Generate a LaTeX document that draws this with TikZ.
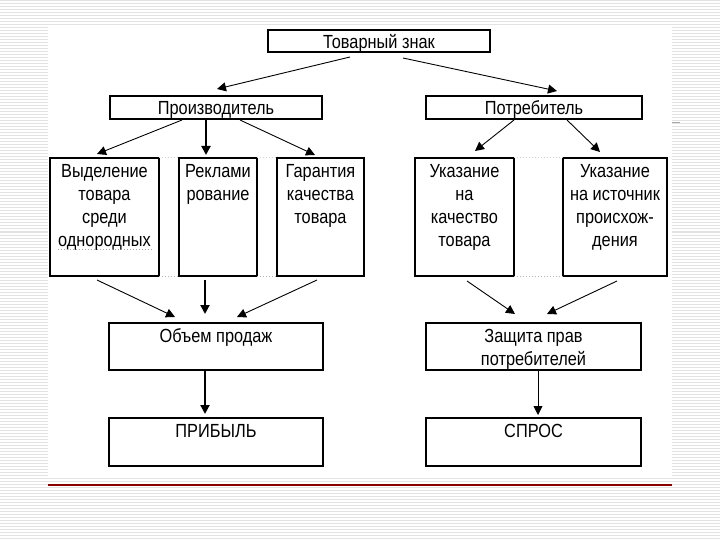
\documentclass[tikz,border=0pt]{standalone}
\usepackage{fontspec}
\setmainfont[FakeStretch=0.86]{Liberation Sans}
\usetikzlibrary{arrows.meta}
\newcommand{\bxt}[3]{\parbox[c][#2pt][t]{#1pt}{\centering\fontsize{19}{23}\selectfont\rule{0pt}{19pt}#3\par}}
\begin{document}
\begin{tikzpicture}[x=1pt,y=-1pt,
  box/.style={draw, line width=1.3pt, inner sep=0pt, outer sep=0pt},
  arr/.style={line width=0.9pt, -{Triangle[length=9pt,width=9pt]}},
  arrthick/.style={line width=2pt, -{Triangle[length=9pt,width=9pt]}},
  stripe/.style={black!11, line width=1pt},
  gapdots/.style={gray!60, dotted, line width=1pt}]
\useasboundingbox (0,0) rectangle (720,540);
\fill[white] (0,0) rectangle (720,540);
\foreach \k in {0,...,179} {\draw[stripe] (0,{\k*3+1}) -- (720,{\k*3+1});}
\fill[white] (48,27) rectangle (672,476);
\draw[red!55!black, line width=1.3pt] (48,485) -- (672,485);
\draw[gray!70, line width=0.8pt] (672,122) -- (680,122);

% boxes
\node[box] (top)  at (379,41)      {\bxt{222}{22}{Товарный знак}};
\node[box] (prod) at (216,107.5)   {\bxt{212}{23}{Производитель}};
\node[box] (potr) at (534,107.5)   {\bxt{216}{23}{Потребитель}};
\node[box] (v1)   at (104.5,217)   {\bxt{109}{118}{Выделение\\товара\\среди\\однородных}};
\node[box] (v2)   at (218,217)     {\bxt{78}{118}{Реклами\\рование}};
\node[box] (v3)   at (320.5,217)   {\bxt{87}{118}{Гарантия\\качества\\товара}};
\node[box] (u1)   at (464.5,217)   {\bxt{99}{118}{Указание\\на\\качество\\товара}};
\node[box] (u2)   at (615,217)     {\bxt{104}{118}{Указание\\на источник\\происхож-\\дения}};
\node[box] (ob)   at (216,346.5)   {\bxt{214}{47}{Объем продаж}};
\node[box] (zp)   at (533.5,346.5) {\bxt{215}{47}{Защита прав\\потребителей}};
\node[box] (pr)   at (216,442)     {\bxt{214}{48}{ПРИБЫЛЬ}};
\node[box] (sp)   at (533.5,442)   {\bxt{215}{48}{СПРОС}};

% spell-check underline
\draw[gray!70, dotted, line width=1pt] (58,249) -- (153,249);

% dotted gaps between boxes
\draw[gapdots] (v1.south east) -- (v2.south west);
\draw[gapdots] (v2.south east) -- (v3.south west);
\draw[gapdots] (u1.south east) -- (u2.south west);
\draw[gray!35, dotted, line width=1pt] (v1.north east) -- (v2.north west);
\draw[gray!35, dotted, line width=1pt] (v2.north east) -- (v3.north west);
\draw[gray!35, dotted, line width=1pt] (u1.north east) -- (u2.north west);

% arrows
\draw[arr] ([xshift=-29pt,yshift=-5pt]top.south) -- ([xshift=1pt,yshift=7pt]prod.north);
\draw[arr] ([xshift=24pt,yshift=-6pt]top.south) -- ([xshift=23pt,yshift=5pt]potr.north);

\draw[arr] ([xshift=-34pt,yshift=-1pt]prod.south) -- ([xshift=-7.5pt,yshift=4pt]v1.north);
\draw[arrthick] ([xshift=-10pt]prod.south) -- ([xshift=-12pt,yshift=3pt]v2.north);
\draw[arr] ([xshift=24pt,yshift=-1pt]prod.south) -- ([xshift=-5.5pt,yshift=3pt]v3.north);

\draw[arr] ([xshift=-20pt,yshift=-1pt]potr.south) -- ([xshift=10.5pt,yshift=7pt]u1.north);
\draw[arr] ([xshift=33pt,yshift=-1pt]potr.south) -- ([xshift=-15pt,yshift=6pt]u2.north);

\draw[arr] ([xshift=-7.5pt,yshift=-4pt]v1.south) -- ([xshift=-41pt,yshift=6pt]ob.north);
\draw[arrthick] ([xshift=-13pt,yshift=-4pt]v2.south) -- ([xshift=-11pt,yshift=9pt]ob.north);
\draw[arr] ([xshift=-3.5pt,yshift=-4pt]v3.south) -- ([xshift=21pt,yshift=6pt]ob.north);

\draw[arr] ([xshift=2.5pt,yshift=-5pt]u1.south) -- ([xshift=-18.5pt,yshift=9pt]zp.north);
\draw[arr] ([xshift=2pt,yshift=-5pt]u2.south) -- ([xshift=13.5pt,yshift=9pt]zp.north);

\draw[arrthick] ([xshift=-11pt]ob.south) -- ([xshift=-11pt,yshift=4pt]pr.north);
\draw[arr] ([xshift=4.5pt]zp.south) -- ([xshift=4.5pt,yshift=3pt]sp.north);
\end{tikzpicture}
\end{document}
